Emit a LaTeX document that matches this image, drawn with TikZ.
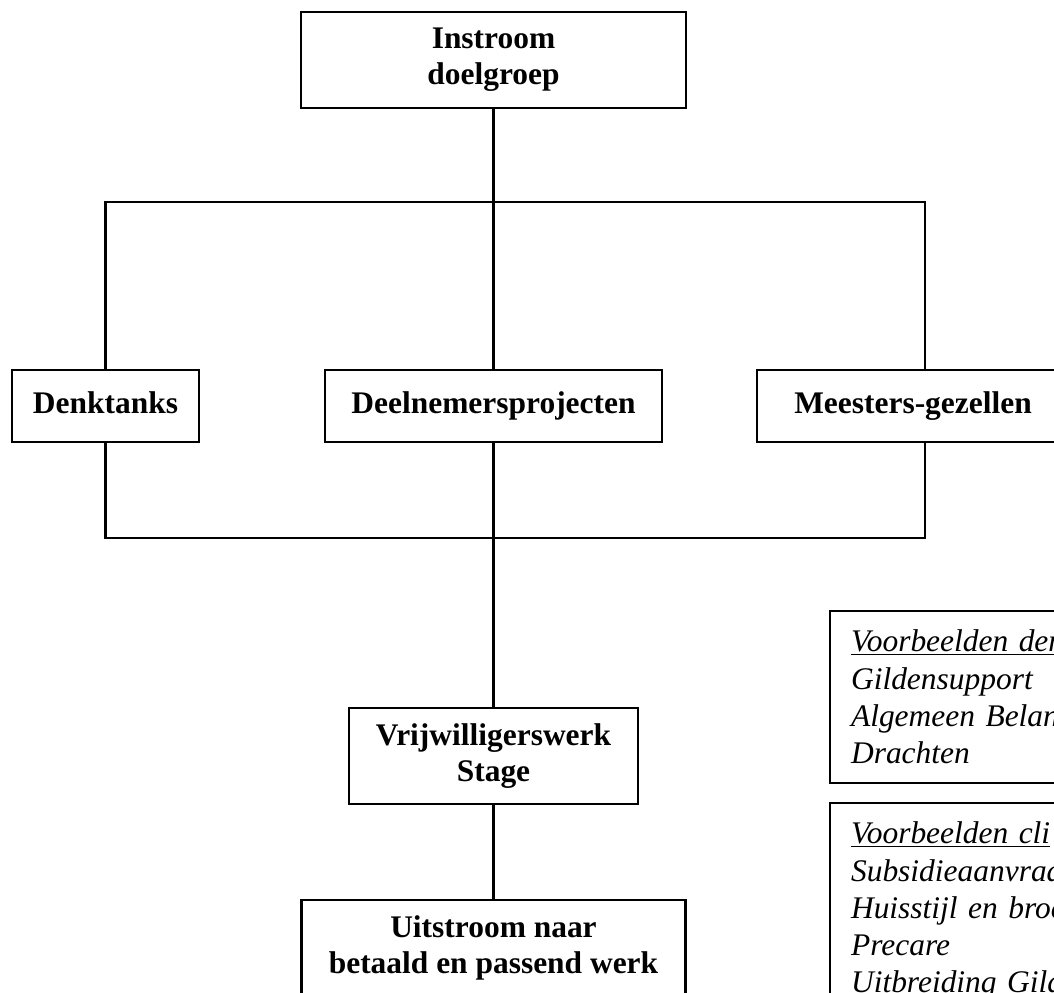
\documentclass[tikz,border=0pt]{standalone}
\usepackage{fontspec}
\setmainfont{Liberation Serif}
\begin{document}
\begin{tikzpicture}[x=0.02cm, y=-0.02cm, line width=1.2pt,
    blok/.style={draw, inner sep=2pt, font=\fontsize{17.9}{20.4}\selectfont\bfseries},
    enkel/.style={blok, text height=1.08em, text depth=0.2em, minimum height=1.44cm},
    dubbel/.style={blok, align=center, minimum height=1.92cm},
    voorbeeld/.style={draw, anchor=north west, align=left, text width=5.56cm, inner xsep=0.42cm, inner ysep=0.38cm, font=\fontsize{17.9}{21.2}\selectfont\itshape}]
        % Frame of the page, everything outside is cut off
        \useasboundingbox (0,0) rectangle (1054,992);
        \clip (0,0) rectangle (1054,992);

        % Boxes of the flow
        \node[dubbel, minimum width=7.7cm] (instroom) at (493.5,60) {Instroom\\doelgroep};
        \node[enkel, minimum width=3.74cm] (denktanks) at (105.5,406) {Denktanks};
        \node[enkel, minimum width=6.74cm] (deelnemers) at (493.5,406) {Deelnemersprojecten};
        \node[enkel, minimum width=6.24cm] (meesters) at (913,406) {Meesters-gezellen};
        \node[dubbel, minimum width=5.78cm] (vrijwillig) at (493.5,756) {Vrijwilligerswerk\\Stage};
        \node[dubbel, minimum width=7.68cm] (uitstroom) at (493.5,948) {Uitstroom naar\\betaald en passend werk};

        % Boxes with examples
        \node[voorbeeld, minimum height=3.36cm] (vbdenk) at (829,610) {\underline{Voorbeelden den}\\Gildensupport\\Algemeen Belan\\Drachten};
        \node[voorbeeld] (vbclient) at (829,802) {\underline{Voorbeelden cli}\\Subsidieaanvraa\\Huisstijl en broc\\Precare\\Uitbreiding Gild};

        % Points of the two busses
        \coordinate (busTop) at (493.5,202);
        \coordinate (busBot) at (493.5,538);
        \coordinate (busR) at (925,202);

        % Lines between the boxes
        \draw (instroom) -- (busTop);
        \draw (denktanks) |- (busTop) -| (busR |- meesters.north);
        \draw (deelnemers) -- (busTop);
        \draw (denktanks) |- (busBot) -| (busR |- meesters.south);
        \draw (deelnemers) -- (vrijwillig);
        \draw (vrijwillig) -- (uitstroom);
      \end{tikzpicture}
\end{document}
